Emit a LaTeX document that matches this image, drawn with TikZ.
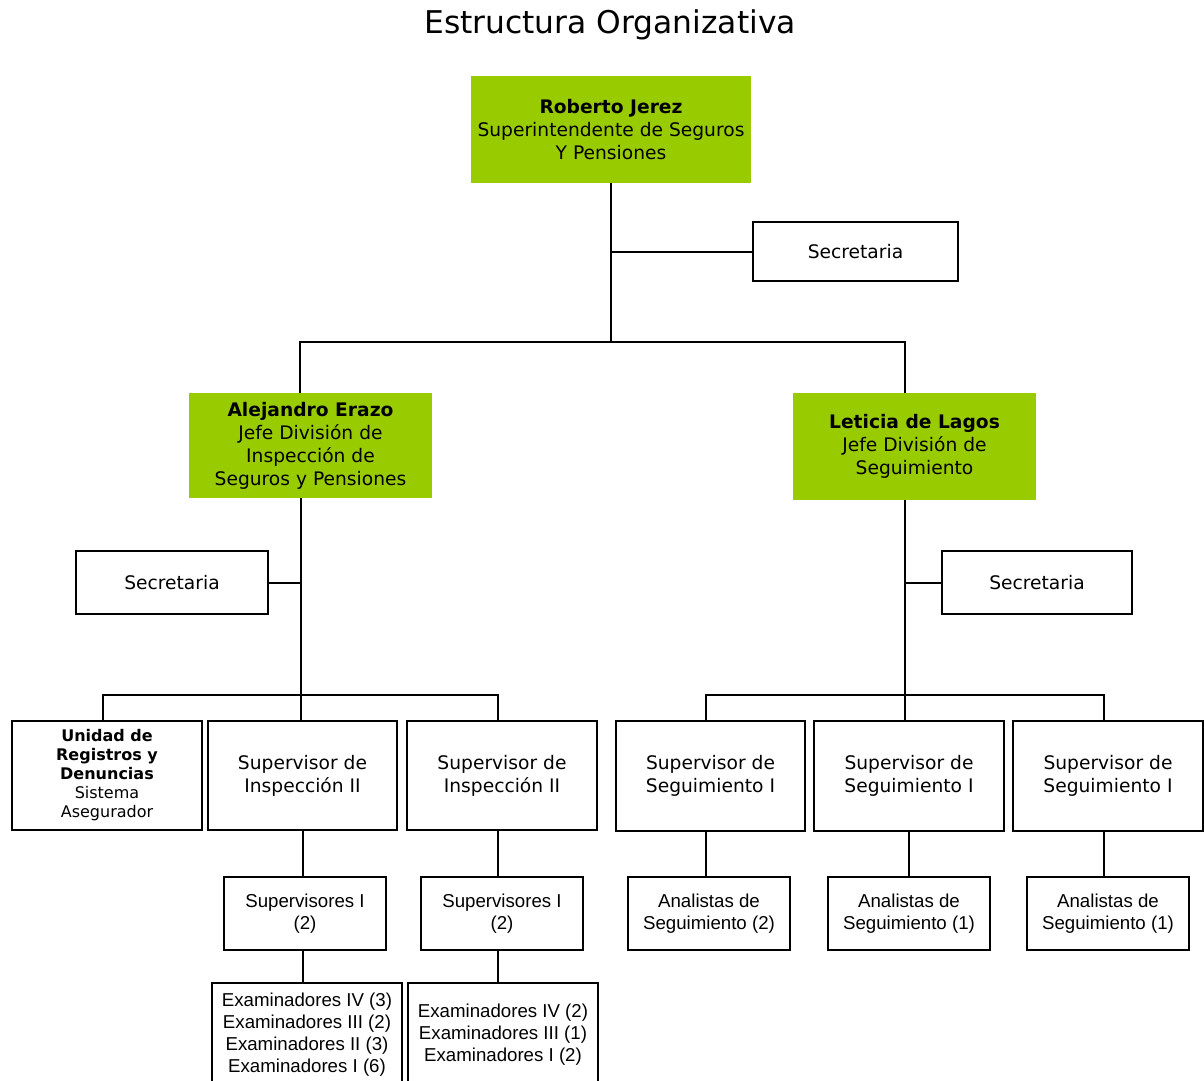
\documentclass[tikz,border=0pt]{standalone}
\usepackage{fontspec}
\setmainfont{DejaVu Sans}
\newfontfamily\arialfont{Liberation Sans}
\usepackage{tikz}
\usetikzlibrary{positioning}
\definecolor{limex}{HTML}{99CC00}
\tikzset{
  boxsize/.style 2 args={minimum width=#1*0.75pt,minimum height=#2*0.75pt},
  head/.style={fill=limex,align=center,inner sep=2pt,font=\fontsize{14}{17.25}\selectfont},
  post/.style={draw,line width=1.5pt,fill=white,align=center,inner sep=2pt,font=\fontsize{14}{17.25}\selectfont},
  staff/.style={post,font=\arialfont\fontsize{14}{16.5}\selectfont},
  link/.style={line width=1.5pt}
}

\begin{document}
\begin{tikzpicture}[x=0.75pt,y=-0.75pt]
\useasboundingbox[fill=white] (0,0) rectangle (1204,1081);
\clip (0,0) rectangle (1204,1081);
\node[font=\fontsize{23.5}{28}\selectfont] (title) at (610,25) {Estructura Organizativa};
% jefaturas
\node[head,boxsize={280}{107}] (super) at (611,129.5) {\textbf{Roberto Jerez}\\Superintendente de Seguros\\Y Pensiones};
\node[post,boxsize={205}{59}] (secsup) at (855.5,251.5) {Secretaria};
\node[head,boxsize={243}{105}] (insp) at (310.5,445.5) {\textbf{Alejandro Erazo}\\Jefe División de\\Inspección de\\Seguros y Pensiones};
\node[head,boxsize={243}{107}] (segui) at (914.5,446.5) {\textbf{Leticia de Lagos}\\Jefe División de\\Seguimiento};
\node[post,boxsize={192}{63}] (secinsp) at (172,582.5) {Secretaria};
\node[post,boxsize={190}{63}] (secsegui) at (1037,582.5) {Secretaria};
% supervisores
\node[post,boxsize={190}{109},font=\fontsize{12}{14.25}\selectfont] (unidad) at (107,775.5) {\textbf{Unidad de}\\\textbf{Registros y}\\\textbf{Denuncias}\\Sistema\\Asegurador};
\node[post,boxsize={189}{109}] (supins1) at (302.5,775.5) {Supervisor de\\Inspección II};
\node[post,boxsize={190}{109}] (supins2) at (502,775.5) {Supervisor de\\Inspección II};
\node[post,boxsize={189}{110}] (supseg1) at (710.5,776) {Supervisor de\\Seguimiento I};
\node[post,boxsize={190}{110}] (supseg2) at (909,776) {Supervisor de\\Seguimiento I};
\node[post,boxsize={190}{110}] (supseg3) at (1108,776) {Supervisor de\\Seguimiento I};
% personal
\node[staff,boxsize={162}{73}] (supi1) at (305,913.5) {Supervisores I\\(2)};
\node[staff,boxsize={162}{73}] (supi2) at (502,913.5) {Supervisores I\\(2)};
\node[staff,boxsize={190}{103}] (exam1) at (307,1034.5) {Examinadores IV (3)\\Examinadores III (2)\\Examinadores II (3)\\Examinadores I (6)};
\node[staff,boxsize={190}{103}] (exam2) at (503,1034.5) {Examinadores IV (2)\\Examinadores III (1)\\Examinadores I (2)};
\node[staff,boxsize={162}{73}] (ana1) at (709,913.5) {Analistas de\\Seguimiento (2)};
\node[staff,boxsize={162}{73}] (ana2) at (909,913.5) {Analistas de\\Seguimiento (1)};
\node[staff,boxsize={162}{73}] (ana3) at (1108,913.5) {Analistas de\\Seguimiento (1)};
% lineas
\coordinate (busTop) at (611,342);
\coordinate (dropI) at (300,342);
\coordinate (dropS) at (905,342);
\draw[link] (super.south) -- (busTop);
\draw[link] (super.south |- secsup.west) -- (secsup.west);
\draw[link] (insp.north -| dropI) -- (dropI) -- (dropS) -- (dropS |- segui.north);
\coordinate (spineI) at (301,695);
\coordinate (busIa) at (103,695);
\coordinate (busIb) at (498,695);
\draw[link] (insp.south -| spineI) -- (spineI);
\draw[link] (secinsp.east) -- (secinsp.east -| spineI);
\draw[link] (busIa |- unidad.north) -- (busIa) -- (busIb) -- (busIb |- supins2.north);
\draw[link] (spineI) -- (spineI |- supins1.north);
\draw[link] (supins1.south) -- (supins1.south |- supi1.north);
\draw[link] (supi1.south -| supins1.south) -- (exam1.north -| supins1.south);
\draw[link] (supins2.south -| busIb) -- (supi2.north -| busIb);
\draw[link] (supi2.south -| busIb) -- (exam2.north -| busIb);
\coordinate (spineS) at (905,695);
\coordinate (busSa) at (706,695);
\coordinate (busSb) at (1104,695);
\draw[link] (segui.south -| spineS) -- (spineS);
\draw[link] (secsegui.west) -- (secsegui.west -| spineS);
\draw[link] (busSa |- supseg1.north) -- (busSa) -- (busSb) -- (busSb |- supseg3.north);
\draw[link] (spineS) -- (spineS |- supseg2.north);
\draw[link] (supseg1.south -| busSa) -- (ana1.north -| busSa);
\draw[link] (supseg2.south) -- (ana2.north);
\draw[link] (supseg3.south -| busSb) -- (ana3.north -| busSb);
\end{tikzpicture}
\end{document}
